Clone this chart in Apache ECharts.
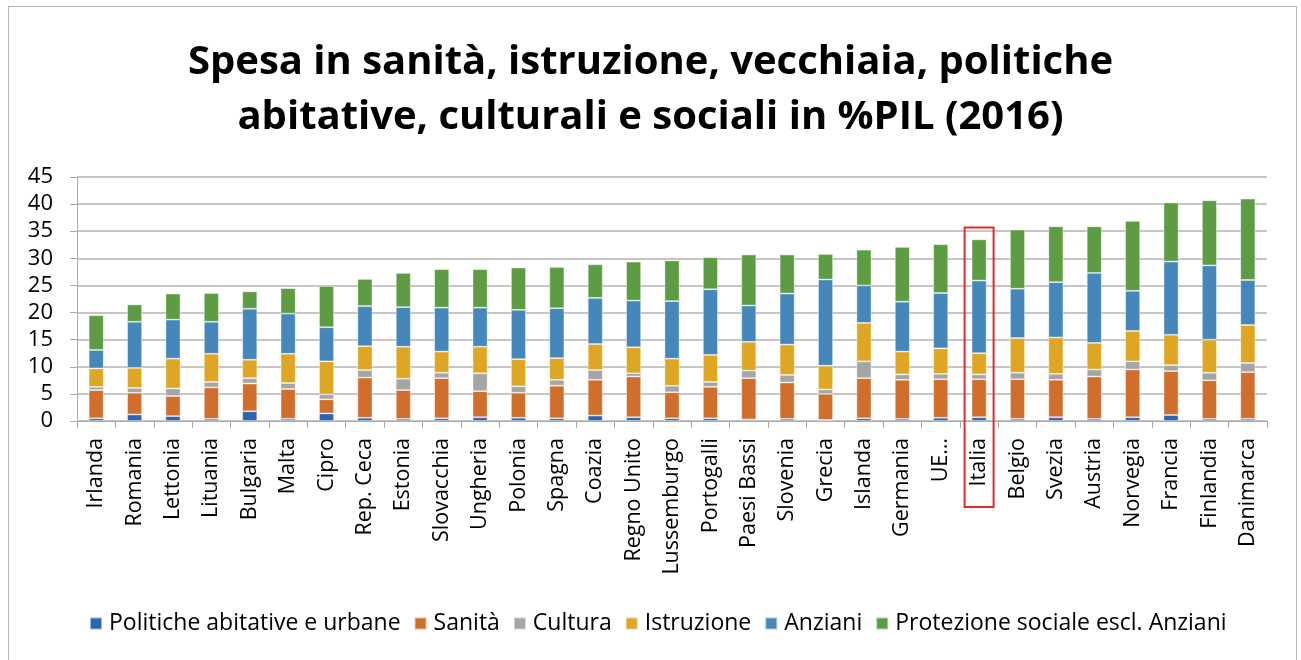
<!DOCTYPE html>
<html>
<head>
<meta charset="utf-8">
<script src="https://cdn.jsdelivr.net/npm/echarts@6/dist/echarts.min.js"></script>
<style>
html,body{margin:0;padding:0;background:#fff;}
#frame{position:absolute;left:8px;top:6px;width:1289px;height:680px;border:1px solid #b5b5b5;box-sizing:border-box;}
#chart{position:absolute;left:0;top:0;width:1301px;height:660px;}
</style>
</head>
<body>
<div id="frame"></div>
<div id="chart"></div>
<script>
const categories = ["Irlanda","Romania","Lettonia","Lituania","Bulgaria","Malta","Cipro","Rep. Ceca","Estonia","Slovacchia","Ungheria","Polonia","Spagna","Coazia","Regno Unito","Lussemburgo","Portogalli","Paesi Bassi","Slovenia","Grecia","Islanda","Germania","UE…","Italia","Belgio","Svezia","Austria","Norvegia","Francia","Finlandia","Danimarca"];
const politiche = [0.5,1.2,0.9,0.4,1.8,0.4,1.4,0.6,0.4,0.5,0.7,0.6,0.5,1.0,0.7,0.5,0.5,0.3,0.4,0.2,0.5,0.4,0.6,0.7,0.4,0.7,0.4,0.7,1.1,0.4,0.4];
const sanita = [5.2,4.0,3.7,5.8,5.1,5.5,2.6,7.4,5.3,7.4,4.8,4.6,6.0,6.6,7.5,4.8,5.8,7.6,6.7,4.8,7.4,7.2,7.1,7.0,7.3,6.9,7.8,8.8,8.1,7.1,8.6];
const cultura = [0.6,0.9,1.4,1.0,1.0,1.1,0.9,1.4,2.1,1.0,3.3,1.2,1.1,1.8,0.6,1.2,0.9,1.4,1.4,0.8,3.1,1.0,1.0,0.9,1.2,1.1,1.3,1.5,1.1,1.4,1.7];
const istruzione = [3.4,3.7,5.5,5.2,3.4,5.4,6.1,4.4,5.9,3.9,4.9,5.0,4.0,4.8,4.8,5.0,5.0,5.3,5.6,4.4,7.1,4.2,4.7,3.9,6.4,6.7,4.9,5.6,5.6,6.1,7.0];
const anziani = [3.4,8.5,7.2,5.9,9.4,7.4,6.3,7.4,7.3,8.1,7.2,9.1,9.2,8.5,8.6,10.6,12.1,6.7,9.4,15.9,6.9,9.2,10.2,13.4,9.1,10.2,12.9,7.4,13.5,13.7,8.3];
const protezione = [6.4,3.2,4.8,5.3,3.2,4.7,7.6,5.0,6.3,7.1,7.1,7.8,7.6,6.2,7.2,7.5,5.9,9.4,7.2,4.7,6.6,10.1,9.0,7.6,10.9,10.3,8.6,12.9,10.9,12.0,15.0];
const seriesNames = ["Politiche abitative e urbane","Sanità","Cultura","Istruzione","Anziani","Protezione sociale escl. Anziani"];
const seriesData = [politiche, sanita, cultura, istruzione, anziani, protezione];
const colors = ["#2E65B2","#D06E2C","#A5A5A5","#DEA623","#4587BA","#5E9C43"];
const titleLines = "Spesa in sanità, istruzione, vecchiaia, politiche\nabitative, culturali e sociali in %PIL (2016)";
const highlighted = "Italia";

const FONT = "'Open Sans', 'Noto Sans', sans-serif";
const chart = echarts.init(document.getElementById('chart'), null, {renderer:'canvas'});
const option = {
  animation:false,
  backgroundColor:'transparent',
  title:{
    text:titleLines,
    left:'center', top:30,
    textStyle:{fontFamily:FONT, fontWeight:'bold', fontSize:40, lineHeight:55, color:'#000'}
  },
  legend:{
    data:seriesNames,
    left:84, top:607,
    itemWidth:12, itemHeight:12, itemGap:13,
    icon:'rect',
    textStyle:{fontFamily:FONT, fontSize:23, color:'#000', padding:[0,0,0,2]}
  },
  grid:{left:77, right:34, top:177, bottom:239, containLabel:false},
  xAxis:{
    type:'category', data:categories,
    axisLine:{show:true, lineStyle:{color:'#aaaaaa', width:1}},
    axisTick:{show:true, length:7, alignWithLabel:false, lineStyle:{color:'#aaaaaa'}},
    axisLabel:{rotate:90, interval:0, margin:17, fontFamily:FONT, fontSize:21.5, color:'#000'}
  },
  yAxis:{
    type:'value', min:0, max:45, interval:5,
    axisLine:{show:true, lineStyle:{color:'#aaaaaa', width:1}},
    axisTick:{show:true, length:7, lineStyle:{color:'#aaaaaa'}},
    axisLabel:{fontFamily:FONT, fontSize:22, color:'#000', margin:24},
    splitLine:{show:true, lineStyle:{color:'#b3b3b3', width:1.5}}
  },
  series: seriesNames.map((n,i)=>({
    name:n, type:'bar', stack:'tot', data:seriesData[i], barWidth:15,
    itemStyle:{color:colors[i], borderColor:'rgba(255,255,255,0.55)', borderWidth:0.8}
  }))
};
chart.setOption(option);

// highlight box around Italia
const idx = categories.indexOf(highlighted);
const cx = chart.convertToPixel({xAxisIndex:0}, idx);
const yTop = chart.convertToPixel({yAxisIndex:0}, 35.7);
chart.setOption({graphic:[{
  type:'rect', shape:{x:cx-14.5, y:yTop, width:29, height:507-yTop},
  style:{fill:'none', stroke:'#E8282B', lineWidth:2}, z:100
}]});
</script>
</body>
</html>
